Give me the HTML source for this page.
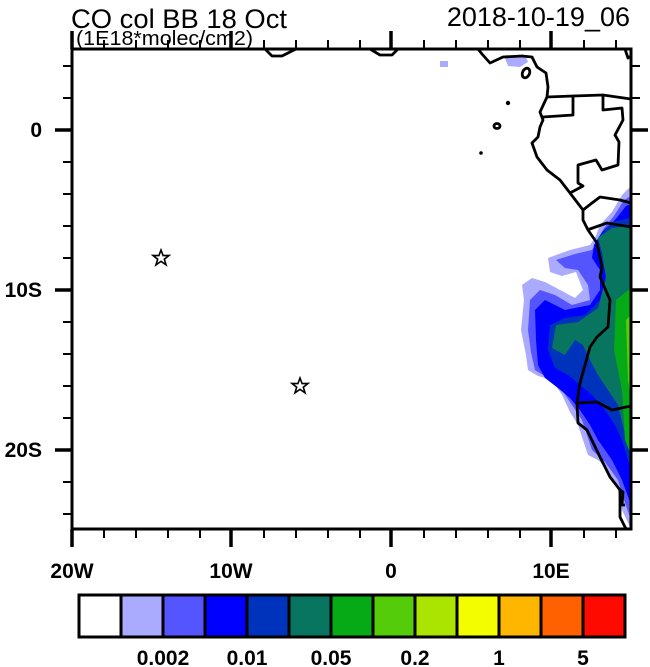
<!DOCTYPE html>
<html><head><meta charset="utf-8"><style>
body{margin:0;background:#fff;}
svg{display:block;font-family:"Liberation Sans",Arial,sans-serif;}
</style></head><body>
<svg width="650" height="667" viewBox="0 0 650 667" xmlns="http://www.w3.org/2000/svg">
<rect width="650" height="667" fill="#fff"/>
<defs><clipPath id="c"><rect x="72" y="49" width="559" height="480"/></clipPath></defs>
<g clip-path="url(#c)">
<g>
<rect x="440" y="61" width="8" height="6" fill="#aaaaff"/>
<polygon points="505,58 525,55 528,62 520,67 508,66" fill="#aaaaff"/>
<polygon points="548,258 570,250 590,245 595,238 600,225 612,212 622,195 631,186 631,529 622,510 618,490 608,470 598,460 588,455 578,425 570,412 562,395 552,380 538,376 528,370 526,355 521,330 524,300 522,285 532,278 545,282 560,290 575,298 583,290 576,272 562,276 550,272" fill="#aaaaff"/>
<polygon points="556,260 575,254 592,250 598,240 604,228 614,216 624,200 631,196 631,520 624,500 618,480 605,462 592,450 582,420 572,405 562,390 548,378 535,370 531,352 528,330 530,300 540,290 555,295 572,305 590,300 588,285 578,270 565,268" fill="#5555ff"/>
<polygon points="594,245 602,232 615,220 626,206 631,204 631,505 622,480 612,460 598,440 590,425 580,410 570,398 558,388 545,378 538,365 536,340 535,310 545,300 565,310 590,305 600,290 600,270 592,258" fill="#0000ff"/>
<polygon points="598,238 612,222 631,218 631,470 622,440 615,425 605,410 592,395 580,385 568,375 555,368 548,350 550,325 565,318 585,315 600,300 606,275 600,255" fill="#0033bb"/>
<polygon points="598,238 612,228 631,226 631,450 624,430 618,405 608,390 598,375 590,360 583,345 575,340 565,355 552,348 556,325 578,322 598,308 606,278 602,252" fill="#087560"/>
<polygon points="616,300 631,288 631,455 625,440 622,390 614,350" fill="#06aa16"/>
<polygon points="626,320 631,315 631,400 628,380" fill="#55cc0a"/>
</g>
<g fill="none" stroke="#000" stroke-width="2.8" stroke-linejoin="round">
<polyline points="265,49 272,56 282,56 296,49"/>
<polyline points="370,49 380,55 392,55 398,49"/>
<polyline points="478,49 482,54 490,63 503,57 522,56 532,57 537,67 546,73 548,87 547,97 540,112 543,120 540,127 538,137 532,143 537,157 547,170 560,180 570,193 583,210 583,220 588,230 597,243 602,267 600,277 610,300 608,327 597,337 590,347 580,383 577,403 578,423 587,430 600,457 610,477 620,490 620,517 625,527 628,531"/>
<polyline points="547,97 573,96 573,115 543,117"/>
<polyline points="573,96 603,95 603,110 622,108 623,120 615,135 619,142 618,165 602,170 596,160 578,165 578,183 583,186 570,193"/>
<polyline points="603,95 631,99"/>
<polyline points="583,210 592,203 600,197 620,200 631,203"/>
<polyline points="587,230 607,223 631,227"/>
<polyline points="577,403 597,402 612,410 631,406"/>
<polyline points="620,490 623,492 622,505 625,505"/>
<polyline points="625,49 628,58 631,56"/>
<ellipse cx="526" cy="73" rx="3.5" ry="5" transform="rotate(25 526 73)"/>
<ellipse cx="497" cy="126" rx="3" ry="2.5"/>
</g>
<circle cx="508" cy="103" r="2.2" fill="#000"/>
<circle cx="481" cy="153" r="1.8" fill="#000"/>
</g>
<rect x="72" y="49" width="559" height="480" fill="none" stroke="#000" stroke-width="3"/>
<g stroke="#000" stroke-width="2">
<path d="M104,529v9M136,529v9M168,529v9M200,529v9M264,529v9M296,529v9M328,529v9M360,529v9M424,529v9M456,529v9M488,529v9M520,529v9M584,529v9M616,529v9"/>
<path d="M104,49v-9M136,49v-9M168,49v-9M200,49v-9M264,49v-9M296,49v-9M328,49v-9M360,49v-9M424,49v-9M456,49v-9M488,49v-9M520,49v-9M584,49v-9M616,49v-9"/>
<path d="M72,66h-9M72,98h-9M72,162h-9M72,194h-9M72,226h-9M72,258h-9M72,322h-9M72,354h-9M72,386h-9M72,418h-9M72,482h-9M72,514h-9"/>
<path d="M631,66h9M631,98h9M631,162h9M631,194h9M631,226h9M631,258h9M631,322h9M631,354h9M631,386h9M631,418h9M631,482h9M631,514h9"/>
</g>
<g stroke="#000" stroke-width="3.5">
<path d="M72,529v18M231,529v18M391,529v18M551,529v18"/>
<path d="M72,49v-18M231,49v-18M391,49v-18M551,49v-18"/>
<path d="M72,130h-17M72,290h-17M72,450h-17"/>
<path d="M631,130h17M631,290h17M631,450h17"/>
</g>
<g fill="none" stroke="#000" stroke-width="1.6">
<polygon points="161,250 163.1,255.6 169,255.5 164.3,259.2 166.1,264.9 161,261.4 155.9,264.9 157.7,259.2 153,255.5 158.9,255.6"/>
<polygon points="300,378 302.1,383.6 308,383.5 303.3,387.2 305.1,392.9 300,389.4 294.9,392.9 296.7,387.2 292,383.5 297.9,383.6"/>
</g>
<text x="71" y="28" font-size="27" textLength="216" lengthAdjust="spacingAndGlyphs">CO col BB 18 Oct</text>
<text x="76" y="45" font-size="20" textLength="177" lengthAdjust="spacingAndGlyphs">(1E18*molec/cm2)</text>
<text x="630" y="26" font-size="27" text-anchor="end">2018-10-19_06</text>
<g font-size="21" font-weight="bold" text-anchor="middle">
<text x="72" y="578">20W</text><text x="231" y="578">10W</text><text x="391" y="578">0</text><text x="551" y="578">10E</text>
</g>
<g font-size="21" font-weight="bold" text-anchor="end">
<text x="42" y="137">0</text><text x="42" y="297">10S</text><text x="42" y="457">20S</text>
</g>
<g stroke="#000" stroke-width="3">
<rect x="79" y="595" width="42" height="42" fill="#ffffff"/>
<rect x="121" y="595" width="42" height="42" fill="#aaaaff"/>
<rect x="163" y="595" width="42" height="42" fill="#5555ff"/>
<rect x="205" y="595" width="42" height="42" fill="#0000ff"/>
<rect x="247" y="595" width="42" height="42" fill="#0033bb"/>
<rect x="289" y="595" width="42" height="42" fill="#087560"/>
<rect x="331" y="595" width="42" height="42" fill="#06aa16"/>
<rect x="373" y="595" width="42" height="42" fill="#55cc0a"/>
<rect x="415" y="595" width="42" height="42" fill="#aae400"/>
<rect x="457" y="595" width="42" height="42" fill="#f4fc00"/>
<rect x="499" y="595" width="42" height="42" fill="#ffb600"/>
<rect x="541" y="595" width="42" height="42" fill="#ff6000"/>
<rect x="583" y="595" width="42" height="42" fill="#ff0a00"/>
</g>
<g font-size="21" font-weight="bold" text-anchor="middle">
<text x="163" y="665">0.002</text><text x="247" y="665">0.01</text><text x="331" y="665">0.05</text><text x="415" y="665">0.2</text><text x="499" y="665">1</text><text x="583" y="665">5</text>
</g>
</svg>
</body></html>
